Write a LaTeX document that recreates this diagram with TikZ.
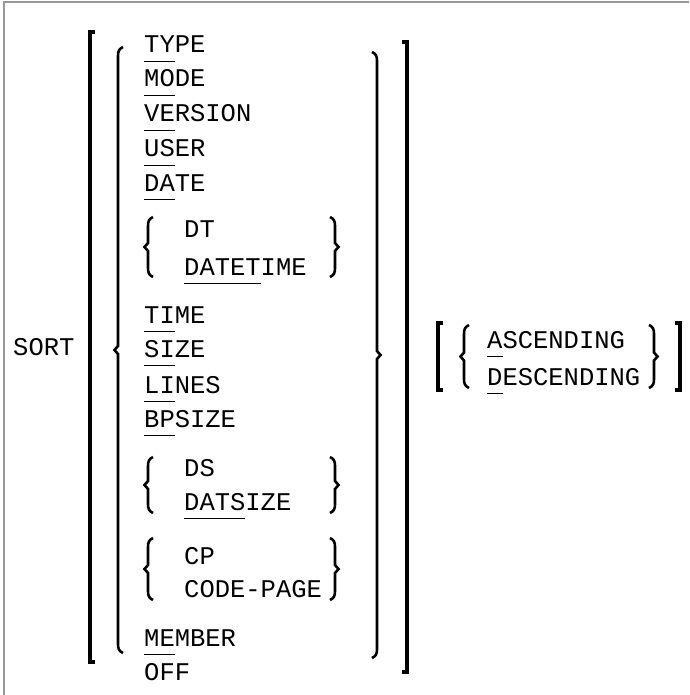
\documentclass[tikz,border=0pt]{standalone}
\usepackage{fontspec}
\setmonofont{Liberation Mono}
\usepackage{tikz}
\tikzstyle{keyword} = [anchor=base west, inner sep=0pt,
    font=\fontsize{25.5}{30}\selectfont\ttfamily]
\tikzstyle{brace} = [line width=2.6pt, line join=miter]
\tikzstyle{bracket} = [line width=3.2pt, line join=miter]
\tikzstyle{frame} = [draw=black!40, line width=1.6pt]
% underlined minimal abbreviation
\newcommand{\minabbr}[1]{\setbox0\hbox{#1}\rlap{\rule[-9pt]{\wd0}{1pt}}\box0}
% braces and brackets: x, top, bottom (pixels from the top)
\newcommand{\synlbrace}[3]{%
    \pgfmathsetmacro{\ymid}{-(#2+#3)/2}
    \draw[brace] (#1+5,-#2) .. controls (#1+1,-#2-2) and (#1,-#2-4) .. (#1,-#2-9)
        -- (#1,\ymid+4) -- (#1-3.5,\ymid) -- (#1,\ymid-4) -- (#1,-#3+9)
        .. controls (#1,-#3+4) and (#1+1,-#3+2) .. (#1+5,-#3);}
\newcommand{\synrbrace}[3]{%
    \pgfmathsetmacro{\ymid}{-(#2+#3)/2}
    \draw[brace] (#1-5,-#2) .. controls (#1-1,-#2-2) and (#1,-#2-4) .. (#1,-#2-9)
        -- (#1,\ymid+4) -- (#1+3.5,\ymid) -- (#1,\ymid-4) -- (#1,-#3+9)
        .. controls (#1,-#3+4) and (#1-1,-#3+2) .. (#1-5,-#3);}
\newcommand{\synlbrack}[3]{%
    \draw[bracket] (#1+5,-#2) -- (#1,-#2) -- (#1,-#3) -- (#1+5,-#3);}
\newcommand{\synrbrack}[3]{%
    \draw[bracket] (#1-5,-#2) -- (#1,-#2) -- (#1,-#3) -- (#1-5,-#3);}

\begin{document}
\begin{tikzpicture}[x=1pt, y=1pt]
            \useasboundingbox (0,0) rectangle (689,-695);
            \draw[frame] (4,-695) -- (4,-2) -- (689,-2);
            % Statement
            \node[keyword] (sort) at (13,-355) {SORT};
            % Sort keys
            \node[keyword] (type) at (144,-53) {\minabbr{TY}PE};
            \node[keyword] (mode) at (144,-87) {\minabbr{MO}DE};
            \node[keyword] (version) at (144,-122) {\minabbr{VE}RSION};
            \node[keyword] (user) at (144,-157) {\minabbr{US}ER};
            \node[keyword] (date) at (144,-191) {\minabbr{DA}TE};
            \node[keyword] (dt) at (184,-237) {DT};
            \node[keyword] (datetime) at (184,-275) {\minabbr{DATET}IME};
            \node[keyword] (time) at (144,-323) {\minabbr{TI}ME};
            \node[keyword] (size) at (144,-357) {\minabbr{SI}ZE};
            \node[keyword] (lines) at (144,-393) {\minabbr{LI}NES};
            \node[keyword] (bpsize) at (144,-427) {\minabbr{BP}SIZE};
            \node[keyword] (ds) at (184,-476) {DS};
            \node[keyword] (datsize) at (184,-510) {\minabbr{DATS}IZE};
            \node[keyword] (cp) at (184,-564) {CP};
            \node[keyword] (codepage) at (184,-597) {CODE-PAGE};
            \node[keyword] (member) at (144,-646) {\minabbr{ME}MBER};
            \node[keyword] (off) at (144,-680) {OFF};
            % Sort order
            \node[keyword] (asc) at (487,-348) {\minabbr{A}SCENDING};
            \node[keyword] (desc) at (487,-385) {\minabbr{D}ESCENDING};
            % Brackets and braces
            \synlbrack{90}{32}{662}
            \synlbrace{118}{47}{653}
            \synlbrace{148}{217}{277}
            \synrbrace{335}{217}{277}
            \synlbrace{148}{457}{513}
            \synrbrace{335}{457}{513}
            \synlbrace{148}{538}{600}
            \synrbrace{335}{538}{600}
            \synrbrace{377}{52}{658}
            \synrbrack{407}{42}{672}
            \synlbrack{438}{323}{390}
            \synlbrace{464}{325}{388}
            \synrbrace{654}{325}{388}
            \synrbrack{680}{323}{390}
        \end{tikzpicture}
\end{document}
